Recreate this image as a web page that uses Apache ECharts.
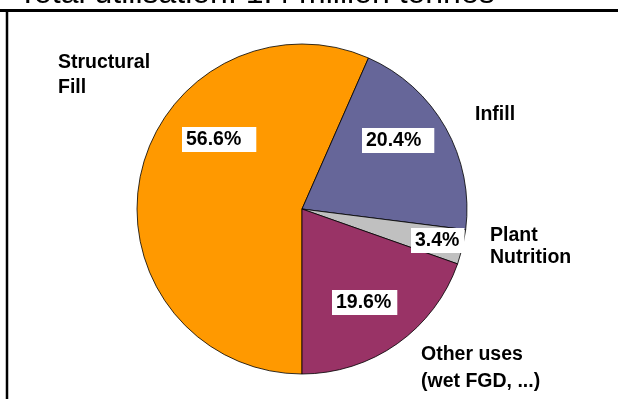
<!DOCTYPE html>
<html>
<head>
<meta charset="utf-8">
<script src="https://cdn.jsdelivr.net/npm/echarts@6/dist/echarts.min.js"></script>
<style>html,body{margin:0;padding:0;background:#fff;}#c{width:618px;height:399px;}</style>
</head>
<body>
<div id="c"></div>
<script>
var categories = ['Structural\nFill', 'Infill', 'Plant\nNutrition', 'Other uses\n(wet FGD, ...)'];
var values = [56.6, 20.4, 3.4, 19.6];
var colors = ['#FF9900', '#666699', '#C0C0C0', '#993366'];
var titleText = 'Total utilisation: 1.4 million tonnes';

// label placement (box top-left corners) and box paddings
var pctLabelPos = [[182, 127], [362, 128], [411, 228], [332, 290]];
var pctRightPad = [15, 13, 5, 6];
var nameLabelPos = [[58, 50], [475, 102], [490, 225], [421, 341]];
var nameLineHeights = [25, 25, 22, 27];

var chart = echarts.init(document.getElementById('c'), null, {renderer: 'canvas'});
var FONT = '"Liberation Sans", Arial, sans-serif';

var pieData = values.map(function (v, i) {
  return {name: categories[i], value: v, itemStyle: {color: colors[i]},
          label: {padding: [3, pctRightPad[i], 3, 4]}};
});
var nameData = values.map(function (v, i) {
  return {name: categories[i], value: v, label: {lineHeight: nameLineHeights[i]}};
});

chart.setOption({
  animation: false,
  backgroundColor: '#fff',
  title: {
    text: titleText, left: 18, top: -22, padding: 0,
    textStyle: {fontFamily: FONT, fontSize: 32, fontWeight: 'normal', color: '#000'}
  },
  graphic: [
    {type: 'line', shape: {x1: 0, y1: 10.5, x2: 618, y2: 10.5}, style: {stroke: '#000', lineWidth: 3}, z: 100},
    {type: 'line', shape: {x1: 7, y1: 10, x2: 7, y2: 399}, style: {stroke: '#000', lineWidth: 2.5}, z: 100}
  ],
  series: [
    {
      type: 'pie',
      center: [302, 209],
      radius: [0, 165],
      startAngle: 270,
      clockwise: true,
      avoidLabelOverlap: false,
      data: pieData,
      itemStyle: {borderColor: '#000', borderWidth: 0.8},
      label: {
        show: true, position: 'inside',
        formatter: function (p) { return p.value.toFixed(1) + '%'; },
        fontFamily: FONT, fontSize: 19.5, fontWeight: 'bold', color: '#000',
        backgroundColor: '#fff', lineHeight: 19
      },
      labelLine: {show: false},
      labelLayout: function (p) {
        var pos = pctLabelPos[p.dataIndex];
        return {x: pos[0], y: pos[1], align: 'left', verticalAlign: 'top'};
      },
      emphasis: {disabled: true}
    },
    {
      type: 'pie',
      center: [302, 209],
      radius: [0, 165],
      startAngle: 270,
      clockwise: true,
      silent: true,
      avoidLabelOverlap: false,
      data: nameData,
      itemStyle: {color: 'rgba(0,0,0,0)', borderWidth: 0},
      label: {
        show: true, position: 'outside',
        formatter: '{b}',
        fontFamily: FONT, fontSize: 19.5, fontWeight: 'bold', color: '#000', align: 'left'
      },
      labelLine: {show: false},
      labelLayout: function (p) {
        var pos = nameLabelPos[p.dataIndex];
        return {x: pos[0], y: pos[1], align: 'left', verticalAlign: 'top'};
      },
      emphasis: {disabled: true}
    }
  ]
});
</script>
</body>
</html>
